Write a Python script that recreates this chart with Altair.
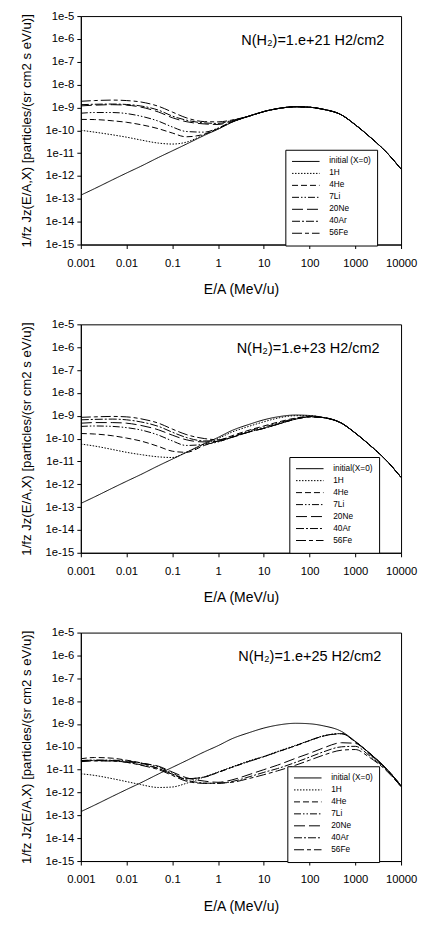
import altair as alt
import pandas as pd

# Energy per nucleon grid (MeV/u)
energy = [0.001, 0.002, 0.005, 0.01, 0.02, 0.05, 0.1, 0.2, 0.5, 1, 2, 5,
          10, 20, 50, 100, 200, 500, 1000, 2000, 5000, 10000]

series = ["initial (X=0)", "1H", "4He", "7Li", "20Ne", "40Ar", "56Fe"]
dashes = [[1, 0], [1.5, 1.5], [6, 3], [7, 2, 1.5, 2, 1.5, 2], [11, 4], [8, 2, 2, 2], [10, 3, 4, 3]]

initial = [1.45e-13, 2.8e-13, 6.9e-13, 1.35e-12, 2.6e-12, 6.5e-12, 1.26e-11, 2.45e-11, 6.0e-11, 1.12e-10,
           2.24e-10, 4.3e-10, 6.6e-10, 8.9e-10, 1.07e-9, 1.02e-9, 8.3e-10, 4.7e-10, 1.74e-10, 5.5e-11,
           1.0e-11, 2.0e-12]

# N(H2) = 1e21
p21_1H = [1.0e-10, 8.3e-11, 6.3e-11, 5.0e-11, 3.8e-11, 2.75e-11, 2.5e-11, 3.0e-11, 6.5e-11, 1.15e-10,
          2.24e-10, 4.3e-10, 6.6e-10, 8.9e-10, 1.07e-9, 1.02e-9, 8.3e-10, 4.7e-10, 1.74e-10, 5.5e-11,
          1.0e-11, 2.0e-12]
p21_4He = [3.0e-10, 2.95e-10, 2.6e-10, 2.24e-10, 1.78e-10, 1.17e-10, 7.6e-11, 5.2e-11, 6.8e-11, 1.2e-10,
           2.3e-10, 4.3e-10, 6.6e-10, 8.9e-10, 1.07e-9, 1.02e-9, 8.3e-10, 4.7e-10, 1.74e-10, 5.5e-11,
           1.0e-11, 2.0e-12]
p21_7Li = [5.6e-10, 6.0e-10, 6.0e-10, 5.4e-10, 4.2e-10, 2.5e-10, 1.4e-10, 8.9e-11, 8.3e-11, 1.26e-10,
           2.35e-10, 4.3e-10, 6.6e-10, 8.9e-10, 1.07e-9, 1.02e-9, 8.3e-10, 4.7e-10, 1.74e-10, 5.5e-11,
           1.0e-11, 2.0e-12]
p21_20Ne = [1.17e-9, 1.26e-9, 1.32e-9, 1.26e-9, 1.05e-9, 6.3e-10, 3.55e-10, 2.4e-10, 1.9e-10, 1.8e-10,
            2.5e-10, 4.3e-10, 6.6e-10, 8.9e-10, 1.07e-9, 1.02e-9, 8.3e-10, 4.7e-10, 1.74e-10, 5.5e-11,
            1.0e-11, 2.0e-12]
p21_40Ar = [1.32e-9, 1.38e-9, 1.41e-9, 1.35e-9, 1.17e-9, 7.6e-10, 4.2e-10, 2.8e-10, 2.1e-10, 2.0e-10,
            2.7e-10, 4.3e-10, 6.6e-10, 8.9e-10, 1.07e-9, 1.02e-9, 8.3e-10, 4.7e-10, 1.74e-10, 5.5e-11,
            1.0e-11, 2.0e-12]
p21_56Fe = [1.86e-9, 2.0e-9, 2.1e-9, 2.0e-9, 1.75e-9, 1.12e-9, 6.3e-10, 3.55e-10, 2.4e-10, 2.34e-10,
            2.8e-10, 4.3e-10, 6.6e-10, 8.9e-10, 1.07e-9, 1.02e-9, 8.3e-10, 4.7e-10, 1.74e-10, 5.5e-11,
            1.0e-11, 2.0e-12]

# N(H2) = 1e23
p23_1H = [5.75e-11, 4.7e-11, 3.3e-11, 2.5e-11, 2.0e-11, 1.58e-11, 1.48e-11, 2.5e-11, 5.6e-11, 1.0e-10,
          1.9e-10, 3.55e-10, 5.4e-10, 7.8e-10, 1.0e-9, 1.0e-9, 8.3e-10, 4.7e-10, 1.74e-10, 5.5e-11,
          1.0e-11, 2.0e-12]
p23_4He = [1.66e-10, 1.58e-10, 1.32e-10, 1.05e-10, 7.9e-11, 4.5e-11, 2.8e-11, 2.5e-11, 5.0e-11, 7.9e-11,
           1.32e-10, 2.4e-10, 3.55e-10, 5.2e-10, 7.9e-10, 9.3e-10, 8.3e-10, 4.7e-10, 1.74e-10, 5.5e-11,
           1.0e-11, 2.0e-12]
p23_7Li = [3.4e-10, 3.55e-10, 3.4e-10, 3.0e-10, 2.4e-10, 1.41e-10, 7.9e-11, 5.0e-11, 5.6e-11, 7.1e-11,
           1.17e-10, 2.24e-10, 3.16e-10, 4.7e-10, 7.6e-10, 9.1e-10, 8.3e-10, 4.7e-10, 1.74e-10, 5.5e-11,
           1.0e-11, 2.0e-12]
p23_20Ne = [4.7e-10, 5.0e-10, 5.0e-10, 4.7e-10, 3.8e-10, 2.4e-10, 1.41e-10, 8.9e-11, 7.1e-11, 7.6e-11,
            1.12e-10, 2.0e-10, 2.8e-10, 4.3e-10, 7.1e-10, 8.9e-10, 8.3e-10, 4.7e-10, 1.74e-10, 5.5e-11,
            1.0e-11, 2.0e-12]
p23_40Ar = [6.6e-10, 6.9e-10, 7.1e-10, 6.6e-10, 5.4e-10, 3.4e-10, 1.9e-10, 1.12e-10, 7.9e-11, 7.9e-11,
            1.12e-10, 2.0e-10, 2.8e-10, 4.2e-10, 7.1e-10, 8.9e-10, 8.3e-10, 4.7e-10, 1.74e-10, 5.5e-11,
            1.0e-11, 2.0e-12]
p23_56Fe = [8.5e-10, 8.9e-10, 9.3e-10, 8.9e-10, 7.4e-10, 4.7e-10, 2.6e-10, 1.51e-10, 1.0e-10, 8.9e-11,
            1.2e-10, 2.0e-10, 2.8e-10, 4.2e-10, 7.1e-10, 8.9e-10, 8.3e-10, 4.7e-10, 1.74e-10, 5.5e-11,
            1.0e-11, 2.0e-12]

# N(H2) = 1e25
p25_1H = [6.6e-12, 5.6e-12, 4.0e-12, 3.0e-12, 2.24e-12, 1.66e-12, 1.74e-12, 2.5e-12, 4.8e-12, 7.9e-12,
          1.32e-11, 2.5e-11, 3.8e-11, 6.3e-11, 1.17e-10, 1.9e-10, 3.0e-10, 3.8e-10, 1.66e-10, 5.5e-11,
          1.0e-11, 2.0e-12]
p25_4He = [3.0e-11, 3.4e-11, 3.16e-11, 2.6e-11, 2.0e-11, 1.12e-11, 6.3e-12, 4.0e-12, 4.7e-12, 7.6e-12,
           1.26e-11, 2.4e-11, 3.7e-11, 6.0e-11, 1.12e-10, 1.86e-10, 2.95e-10, 3.7e-10, 1.66e-10, 5.5e-11,
           1.0e-11, 2.0e-12]
p25_7Li = [2.5e-11, 2.6e-11, 2.6e-11, 2.4e-11, 2.0e-11, 1.32e-11, 7.1e-12, 4.0e-12, 4.8e-12, 7.6e-12,
           1.26e-11, 2.35e-11, 3.7e-11, 6.0e-11, 1.12e-10, 1.9e-10, 3.0e-10, 3.8e-10, 1.66e-10, 5.5e-11,
           1.0e-11, 2.0e-12]
p25_20Ne = [2.5e-11, 2.6e-11, 2.5e-11, 2.24e-11, 1.9e-11, 1.41e-11, 7.9e-12, 4.5e-12, 3.16e-12, 2.8e-12,
            3.55e-12, 6.3e-12, 1.0e-11, 1.58e-11, 3.16e-11, 5.2e-11, 8.9e-11, 1.51e-10, 1.41e-10, 5.0e-11,
            9.5e-12, 1.9e-12]
p25_40Ar = [2.4e-11, 2.5e-11, 2.4e-11, 2.1e-11, 1.66e-11, 1.12e-11, 6.3e-12, 3.55e-12, 2.6e-12, 2.5e-12,
            3.0e-12, 5.0e-12, 7.6e-12, 1.12e-11, 2.1e-11, 3.55e-11, 6.0e-11, 1.0e-10, 1.05e-10, 4.2e-11,
            8.9e-12, 1.78e-12]
p25_56Fe = [2.24e-11, 2.4e-11, 2.4e-11, 2.1e-11, 1.58e-11, 1.0e-11, 5.6e-12, 3.16e-12, 2.5e-12, 2.6e-12,
            2.8e-12, 4.2e-12, 6.0e-12, 8.9e-12, 1.58e-11, 2.6e-11, 4.3e-11, 7.1e-11, 7.6e-11, 3.55e-11,
            8.3e-12, 1.78e-12]

panel_titles = ["N(H\u2082)=1.e+21 H2/cm2", "N(H\u2082)=1.e+23 H2/cm2", "N(H\u2082)=1.e+25 H2/cm2"]
initial_labels = ["initial (X=0)", "initial(X=0)", "initial (X=0)"]
panel_curves = [
    [initial, p21_1H, p21_4He, p21_7Li, p21_20Ne, p21_40Ar, p21_56Fe],
    [initial, p23_1H, p23_4He, p23_7Li, p23_20Ne, p23_40Ar, p23_56Fe],
    [initial, p25_1H, p25_4He, p25_7Li, p25_20Ne, p25_40Ar, p25_56Fe],
]
legend_pos = [(205, 134), (209, 133), (207, 134)]
title_pos_E = [4300, 3400, 3700]
title_pos_J = [8.3e-7, 8.3e-7, 8.3e-7]

x_ticks = [0.001, 0.01, 0.1, 1, 10, 100, 1000, 10000]
y_ticks = [1e-15, 1e-14, 1e-13, 1e-12, 1e-11, 1e-10, 1e-9, 1e-8, 1e-7, 1e-6, 1e-5]

FONT = "Liberation Sans"
W, H = 321, 229


def make_panel(i):
    names = [initial_labels[i]] + series[1:]
    rows = []
    for k, (name, vals) in enumerate(zip(names, panel_curves[i])):
        for e, v in zip(energy, vals):
            rows.append({"E": e, "J": v, "series": name, "k": k})
    df = pd.DataFrame(rows)

    xenc = alt.X("E:Q",
                 scale=alt.Scale(type="log", domain=[0.001, 10000], nice=False),
                 axis=alt.Axis(values=x_ticks, format="~g", labelOverlap=False, labelFlush=False,
                               labelPadding=9, titlePadding=14, tickSize=4,
                               labelFontSize=11.3, titleFontSize=14),
                 title="E/A (MeV/u)")
    yenc = alt.Y("J:Q",
                 scale=alt.Scale(type="log", domain=[1e-15, 1e-5], nice=False),
                 axis=alt.Axis(values=y_ticks,
                               labelExpr="'1e' + round(log(datum.value)/LN10)",
                               labelOverlap=False, labelFlush=False, labelPadding=3, titlePadding=12,
                               tickSize=4, labelFontSize=11.3, titleFontSize=13.2),
                 title="1/fz Jz(E/A,X) [particles/(sr cm2 s eV/u)]")

    lines = alt.Chart(df).mark_line(color="black", strokeWidth=1, interpolate="monotone", clip=True).encode(
        x=xenc,
        y=yenc,
        strokeDash=alt.StrokeDash(
            "series:N",
            sort=names,
            scale=alt.Scale(domain=names, range=dashes),
            legend=alt.Legend(title=None, orient="none",
                              legendX=legend_pos[i][0], legendY=legend_pos[i][1],
                              symbolType="stroke", symbolSize=760, symbolStrokeWidth=1,
                              symbolStrokeColor="black", clipHeight=11.4, rowPadding=0,
                              labelFontSize=8.3, labelFont=FONT, labelColor="black", labelOffset=9,
                              padding=6, strokeColor="black", fillColor="white",
                              cornerRadius=0),
        ),
        order="k:Q",
    )

    tdf = pd.DataFrame({"E": [title_pos_E[i]], "J": [title_pos_J[i]], "label": [panel_titles[i]]})
    text = alt.Chart(tdf).mark_text(align="right", baseline="middle", fontSize=14.5, font=FONT,
                                    color="black").encode(
        x=alt.X("E:Q"), y=alt.Y("J:Q"), text="label:N")

    return alt.layer(lines, text).properties(width=W, height=H)


chart = alt.vconcat(make_panel(0), make_panel(1), make_panel(2), spacing=20).resolve_scale(
    strokeDash="independent").resolve_legend(strokeDash="independent").configure_view(
    stroke="black", strokeWidth=1).configure_axis(
    grid=False, domainColor="black", tickColor="black", labelColor="black", titleColor="black",
    labelFont=FONT, titleFont=FONT, titleFontWeight="normal").properties(
    padding={"left": 10, "top": 0, "right": 5, "bottom": 0}, background="white")

chart.save("out.html", embed_options={"renderer": "svg", "actions": False})
